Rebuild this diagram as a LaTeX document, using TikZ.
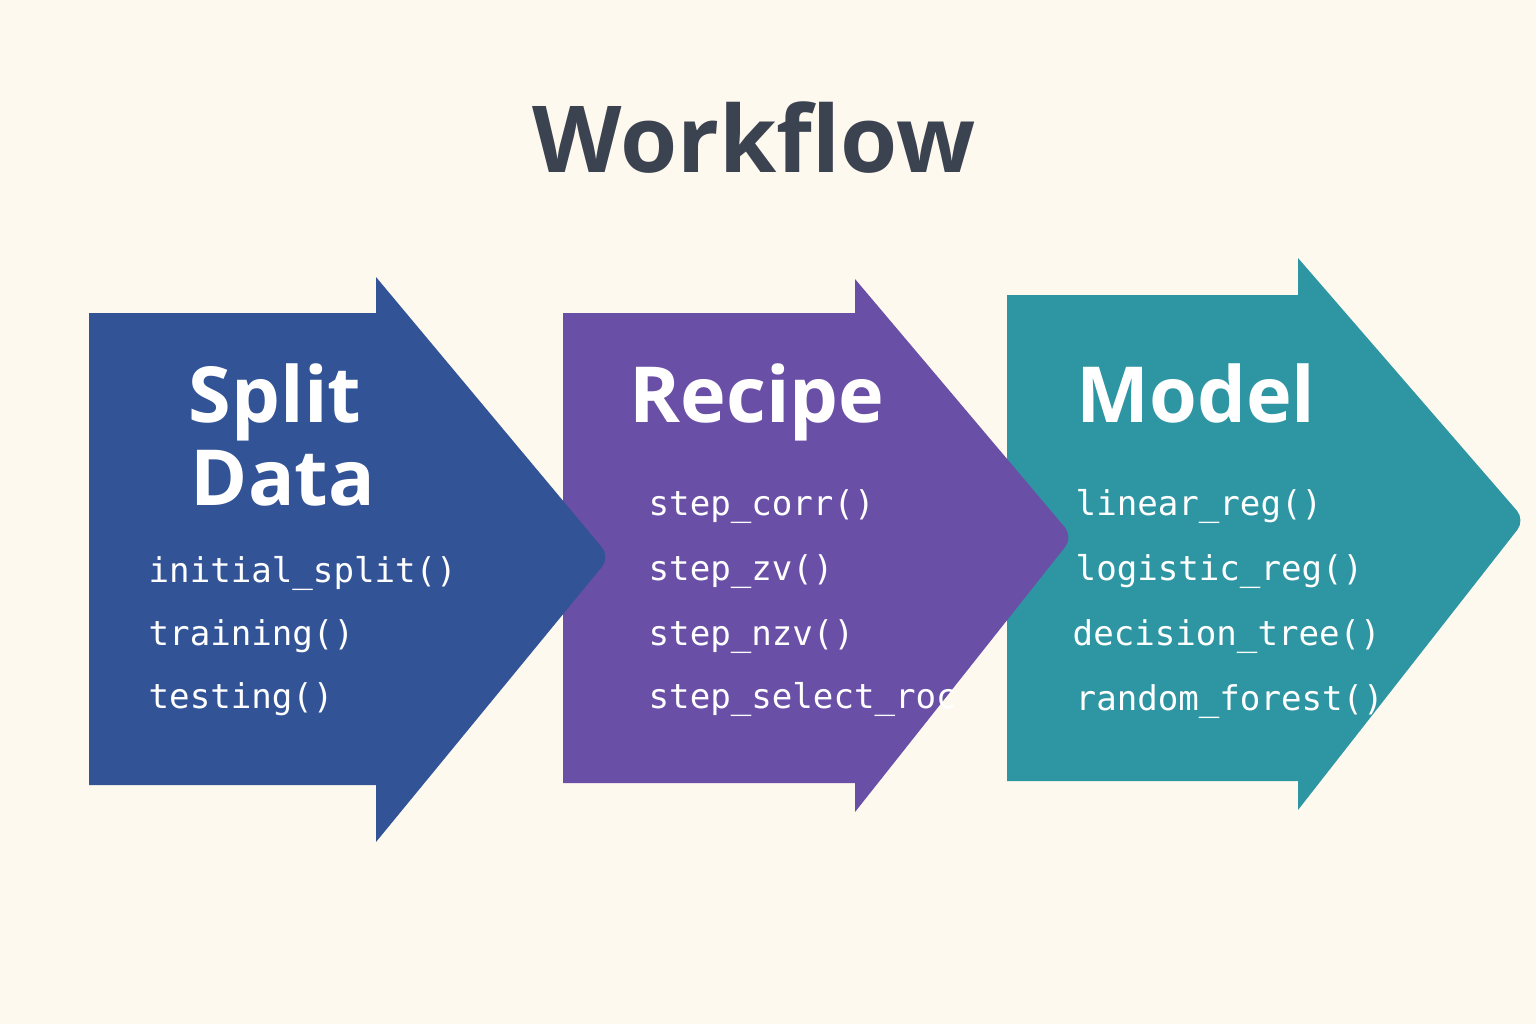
\documentclass[tikz,border=0pt]{standalone}
\usepackage{fontspec}
\setmainfont{Open Sans}
\newfontfamily\codefont{DejaVu Sans Mono}
\definecolor{bgc}{HTML}{FEF9EF}
\definecolor{blueA}{HTML}{325497}
\definecolor{purpA}{HTML}{6A4FA7}
\definecolor{tealA}{HTML}{2E96A3}
\definecolor{titleC}{HTML}{3B4250}
\begin{document}
\begin{tikzpicture}[x=0.01cm,y=-0.01cm,
  titletext/.style={font=\fontsize{26.3}{28}\selectfont\bfseries, text=titleC, anchor=base, inner sep=0pt},
  headtext/.style={font=\fontsize{22}{24}\selectfont\bfseries, text=white, anchor=base, inner sep=0pt},
  codetext/.style={font=\codefont\fontsize{9.7}{11}\selectfont, text=white, anchor=base west, inner sep=0pt}]
\fill[bgc] (0,0) rectangle (1536,1024);
\useasboundingbox (0,0) rectangle (1536,1024);
% teal arrow
\fill[tealA] (1007,295) -- (1298,295) -- (1298,258) [rounded corners=3.5pt] -- (1525,520) [sharp corners] -- (1298,810) -- (1298,781) -- (1007,781) -- cycle;
% purple arrow
\fill[purpA] (563,313) -- (855,313) -- (855,279) [rounded corners=3.5pt] -- (1073,537) [sharp corners] -- (855,812) -- (855,783) -- (563,783) -- cycle;
% blue arrow
\fill[blueA] (89,313) -- (376,313) -- (376,277) [rounded corners=3.5pt] -- (610,557) [sharp corners] -- (376,842) -- (376,785) -- (89,785) -- cycle;
% title
\node[titletext] (title) at (754,172) {Workflow};
% headings
\node[headtext] (split) at (275,422) {Split};
\node[headtext] (data) at (283,505) {Data};
\node[headtext] (recipe) at (757,422) {Recipe};
\node[headtext] (model) at (1196,422) {Model};
% code lines
\node[codetext] (c1) at (148,582) {initial\_split()};
\node[codetext] (c2) at (148,645) {training()};
\node[codetext] (c3) at (148,708) {testing()};
\node[codetext] (r1) at (648,515) {step\_corr()};
\node[codetext] (r2) at (648,580) {step\_zv()};
\node[codetext] (r3) at (648,645) {step\_nzv()};
\node[codetext] (r4) at (648,708) {step\_select\_roc};
\node[codetext] (m1) at (1075,515) {linear\_reg()};
\node[codetext] (m2) at (1075,580) {logistic\_reg()};
\node[codetext] (m3) at (1072,645) {decision\_tree()};
\node[codetext] (m4) at (1075,710) {random\_forest()};
\end{tikzpicture}
\end{document}
